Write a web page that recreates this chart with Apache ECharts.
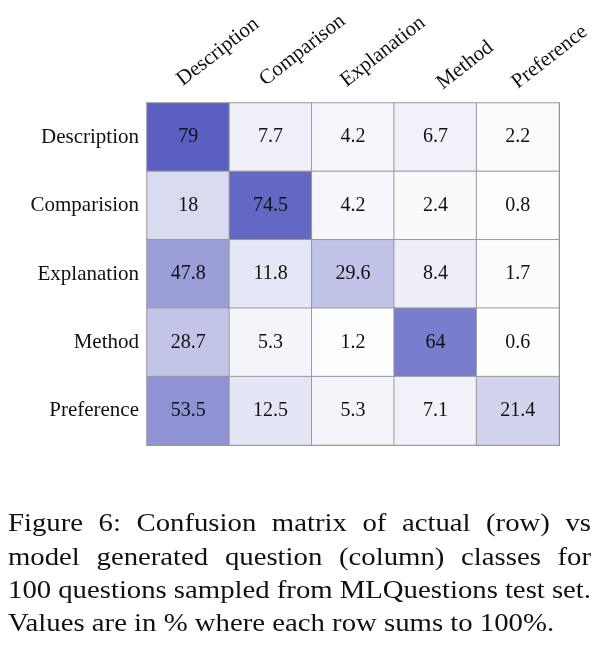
<!DOCTYPE html>
<html>
<head>
<meta charset="utf-8">
<script src="https://cdn.jsdelivr.net/npm/echarts@6/dist/echarts.min.js"></script>
<style>
html,body{margin:0;padding:0;background:#fff;}
#chart{width:600px;height:662px;}
</style>
</head>
<body>
<div id="chart"></div>
<script>
const colLabels = ['Description', 'Comparison', 'Explanation', 'Method', 'Preference'];
const rowLabels = ['Description', 'Comparision', 'Explanation', 'Method', 'Preference'];
const rowDescription = [79, 7.7, 4.2, 6.7, 2.2];
const rowComparision = [18, 74.5, 4.2, 2.4, 0.8];
const rowExplanation = [47.8, 11.8, 29.6, 8.4, 1.7];
const rowMethod = [28.7, 5.3, 1.2, 64, 0.6];
const rowPreference = [53.5, 12.5, 5.3, 7.1, 21.4];
const captionLines = [
  'Figure 6:  Confusion matrix of actual (row) vs',
  'model generated question (column) classes for',
  '100 questions sampled from MLQuestions test set.',
  'Values are in % where each row sums to 100%.'
];
// style: per-column padding [top, right, bottom, left] for the rotated header labels
const colLabelPadding = [[0, 0, 11.5, 6], [0, 0, 11.5, 6.3], [0, 0, 11.5, 4.5], [0, 0, 1, 14], [0, 0, 6, 8.5]];

const rows = [rowDescription, rowComparision, rowExplanation, rowMethod, rowPreference];
const data = [];
rows.forEach((r, i) => r.forEach((v, j) => data.push([j, i, v])));

const serif = '"Liberation Serif", "DejaVu Serif", serif';
const capSize = 25, capScaleX = 1.15;
const capFont = capSize + 'px ' + serif;
const capLeft = 8, capRight = 591, capBase0 = 532.5, capStep = 33.2;
const ctx = document.createElement('canvas').getContext('2d');
ctx.font = capFont;
const graphics = [];
function addWord(w, x, yBase) {
  graphics.push({type: 'text', x: x, y: yBase - 7.6, scaleX: capScaleX,
    style: {text: w, font: capFont, fill: '#111', align: 'left', verticalAlign: 'middle'}});
}
captionLines.forEach((line, li) => {
  const yb = capBase0 + li * capStep;
  if (li === captionLines.length - 1) { addWord(line, capLeft, yb); return; }
  const words = line.split(/\s+/);
  const widths = words.map(w => ctx.measureText(w).width * capScaleX);
  const total = widths.reduce((a, b) => a + b, 0);
  const gap = (capRight - capLeft - total) / (words.length - 1);
  let x = capLeft;
  words.forEach((w, k) => { addWord(w, x, yb); x += widths[k] + gap; });
});

const rich = {};
colLabelPadding.forEach((p, i) => {
  rich['p' + i] = {padding: p, fontFamily: serif, fontSize: 21, color: '#111'};
});

const chart = echarts.init(document.getElementById('chart'));
chart.setOption({
  backgroundColor: '#fff',
  animation: false,
  grid: {left: 147, top: 103, width: 412, height: 342},
  xAxis: [{
    type: 'category', data: colLabels, position: 'top',
    axisLine: {show: true, lineStyle: {color: '#555', width: 1}},
    axisTick: {show: false},
    splitLine: {show: false},
    axisLabel: {rotate: -38, align: 'left', verticalAlign: 'bottom', margin: 0,
      fontFamily: serif, fontSize: 21, color: '#111',
      formatter: (v, i) => '{p' + i + '|' + v + '}', rich: rich}
  }, {
    type: 'category', data: colLabels, position: 'bottom',
    axisLine: {show: true, lineStyle: {color: '#888', width: 1}},
    axisTick: {show: false}, axisLabel: {show: false}
  }],
  yAxis: [{
    type: 'category', data: rowLabels, inverse: true,
    axisLine: {show: true, lineStyle: {color: '#555', width: 1}},
    axisTick: {show: false},
    axisLabel: {margin: 8, fontFamily: serif, fontSize: 21, color: '#111'}
  }, {
    type: 'category', data: rowLabels, inverse: true, position: 'right',
    axisLine: {show: true, lineStyle: {color: '#555', width: 1}},
    axisTick: {show: false}, axisLabel: {show: false}
  }],
  visualMap: {
    show: false, min: 0, max: 79, dimension: 2,
    inRange: {color: ['#ffffff', '#5a5fc1']}
  },
  series: [{
    type: 'heatmap', data: data,
    itemStyle: {borderColor: '#999', borderWidth: 1},
    label: {show: true, fontFamily: serif, fontSize: 20, color: '#111'}
  }],
  graphic: graphics
});
</script>
</body>
</html>
